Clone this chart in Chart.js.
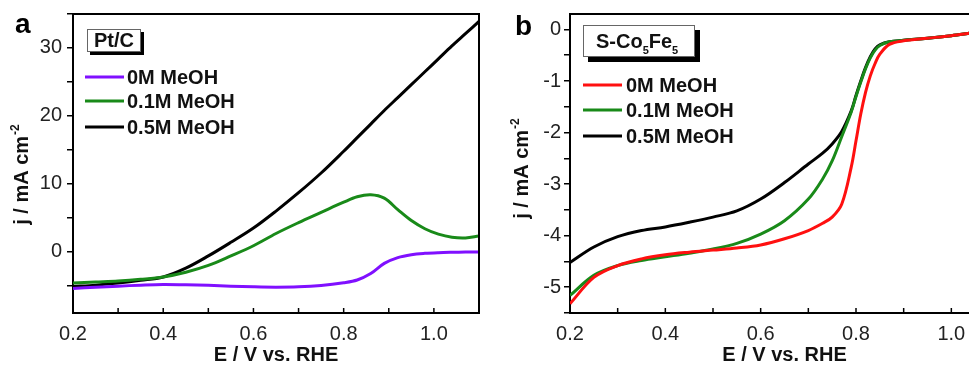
<!DOCTYPE html>
<html>
<head>
<meta charset="utf-8">
<script src="https://cdn.jsdelivr.net/npm/chart.js@4.4.1/dist/chart.umd.min.js"></script>
<style>
  html, body { margin: 0; padding: 0; background: #fff; overflow: hidden; width: 969px; height: 367px; }
  canvas { position: absolute; top: 0; }
  #panelA { left: 0; }
  #panelB { left: 482px; }
</style>
</head>
<body>
<canvas id="panelA" width="482" height="367"></canvas>
<canvas id="panelB" width="517" height="367"></canvas>
<script>
// Panel a: Pt/C, potential (V vs RHE) and current density (mA cm-2)
const potentialA = [0.2, 0.25, 0.3, 0.35, 0.4, 0.45, 0.5, 0.55, 0.6, 0.65, 0.7, 0.75, 0.8, 0.83, 0.86, 0.89, 0.92, 0.95, 0.98, 1.01, 1.04, 1.07, 1.1];
const ptc0M   = [-5.4, -5.2, -5.05, -4.9, -4.8, -4.85, -4.92, -5.05, -5.15, -5.2, -5.15, -4.95, -4.55, -4.15, -3.2, -1.7, -0.85, -0.42, -0.22, -0.12, -0.07, -0.04, -0.02];
const ptc01M  = [-4.6, -4.45, -4.3, -4.05, -3.7, -3.0, -2.0, -0.6, 0.9, 2.7, 4.3, 5.8, 7.3, 8.1, 8.4, 7.9, 6.2, 4.6, 3.4, 2.6, 2.15, 2.05, 2.35];
const ptc05M  = [-5.1, -4.9, -4.6, -4.2, -3.7, -2.4, -0.6, 1.4, 3.5, 6.0, 8.7, 11.6, 14.8, 16.8, 18.8, 20.8, 22.7, 24.6, 26.5, 28.4, 30.3, 32.1, 33.9];

// Panel b: S-Co5Fe5
const potentialB = [0.2, 0.25, 0.3, 0.35, 0.4, 0.45, 0.5, 0.55, 0.6, 0.65, 0.7, 0.73, 0.75, 0.77, 0.79, 0.8, 0.81, 0.82, 0.83, 0.84, 0.85, 0.87, 0.9, 0.95, 1.0, 1.04];
const cofe0M  = [-5.32, -4.81, -4.58, -4.45, -4.37, -4.32, -4.28, -4.24, -4.18, -4.06, -3.9, -3.76, -3.64, -3.39, -2.67, -2.16, -1.64, -1.22, -0.9, -0.66, -0.48, -0.29, -0.22, -0.17, -0.12, -0.07];
const cofe01M = [-5.16, -4.77, -4.58, -4.48, -4.41, -4.34, -4.26, -4.15, -3.97, -3.71, -3.29, -2.9, -2.55, -2.08, -1.6, -1.3, -1.02, -0.76, -0.55, -0.4, -0.31, -0.24, -0.21, -0.17, -0.12, -0.07];
const cofe05M = [-4.52, -4.22, -4.02, -3.9, -3.83, -3.74, -3.64, -3.52, -3.29, -2.97, -2.61, -2.4, -2.22, -1.98, -1.58, -1.28, -1.0, -0.74, -0.53, -0.38, -0.3, -0.24, -0.21, -0.17, -0.12, -0.07];

const seriesLabels = ['0M MeOH', '0.1M MeOH', '0.5M MeOH'];

// Axis ticks
const xTicksA = [0.2, 0.3, 0.4, 0.5, 0.6, 0.7, 0.8, 0.9, 1.0, 1.1];
const xTicksB = [0.2, 0.3, 0.4, 0.5, 0.6, 0.7, 0.8, 0.9, 1.0, 1.1];
const xLabelled = [0.2, 0.4, 0.6, 0.8, 1.0];
const yTicksA = [-5, 0, 5, 10, 15, 20, 25, 30, 35];
const yLabelledA = [0, 10, 20, 30];
const yTicksB = [-5.5, -5, -4.5, -4, -3.5, -3, -2.5, -2, -1.5, -1, -0.5, 0];
const yLabelledB = [-5, -4, -3, -2, -1, 0];

const FONT = "'Liberation Sans', Arial, sans-serif";

function inList(list, v) {
    return list.some(m => Math.abs(m - v) < 1e-6);
}

function toPoints(xs, ys) {
    return xs.map((x, i) => ({ x: x, y: ys[i] }));
}

// draws frame, inward x ticks, y title, boxed label, legend and panel letter
const panelDecor = {
    id: 'panelDecor',
    afterDraw(chart, args, o) {
        const ctx = chart.ctx;
        const a = chart.chartArea;
        const xs = chart.scales.x;
        ctx.save();

        // top and right frame
        ctx.strokeStyle = '#000';
        ctx.lineWidth = 2;
        ctx.beginPath();
        ctx.moveTo(a.left - 1, a.top);
        ctx.lineTo(a.right, a.top);
        ctx.lineTo(a.right, a.bottom);
        ctx.stroke();

        // x ticks pointing into the plot
        ctx.lineWidth = 1.5;
        xs.ticks.forEach(t => {
            const px = xs.getPixelForValue(t.value);
            ctx.beginPath();
            ctx.moveTo(px, a.bottom);
            ctx.lineTo(px, a.bottom - 5);
            ctx.stroke();
        });

        // y axis title with superscript
        ctx.fillStyle = '#111';
        ctx.save();
        ctx.translate(o.yTitleX, o.yTitleY);
        ctx.rotate(-Math.PI / 2);
        ctx.font = 'bold 20px ' + FONT;
        const main = 'j / mA cm';
        const w1 = ctx.measureText(main).width;
        ctx.font = 'bold 12px ' + FONT;
        const w2 = ctx.measureText('-2').width;
        ctx.textBaseline = 'alphabetic';
        ctx.font = 'bold 20px ' + FONT;
        ctx.fillText(main, -(w1 + w2) / 2, 0);
        ctx.font = 'bold 12px ' + FONT;
        ctx.fillText('-2', -(w1 + w2) / 2 + w1 + 1, -9);
        ctx.restore();

        // boxed sample label with shadow
        const b = o.box;
        ctx.fillStyle = '#000';
        ctx.fillRect(b.x + b.shadow, b.y + b.shadow, b.w, b.h);
        ctx.fillStyle = '#fff';
        ctx.fillRect(b.x, b.y, b.w, b.h);
        ctx.strokeStyle = '#666';
        ctx.lineWidth = 1;
        ctx.strokeRect(b.x + 0.5, b.y + 0.5, b.w - 1, b.h - 1);
        ctx.fillStyle = '#111';
        let tx = b.textX;
        b.parts.forEach(p => {
            ctx.font = 'bold ' + p.size + 'px ' + FONT;
            ctx.fillText(p.text, tx, b.baseline + (p.dy || 0));
            tx += ctx.measureText(p.text).width;
        });

        // legend
        const lg = o.legend;
        chart.data.datasets.forEach((ds, i) => {
            const y = lg.rows[i];
            ctx.strokeStyle = ds.borderColor;
            ctx.lineWidth = 3;
            ctx.beginPath();
            ctx.moveTo(lg.x1, y);
            ctx.lineTo(lg.x2, y);
            ctx.stroke();
            ctx.fillStyle = '#111';
            ctx.font = 'bold 20px ' + FONT;
            ctx.fillText(ds.label, lg.textX, y + 7);
        });

        // panel letter
        ctx.font = 'bold 28px ' + FONT;
        ctx.fillStyle = '#000';
        ctx.fillText(o.letter.text, o.letter.x, o.letter.y);
        ctx.restore();
    }
};

function makePanel(id, cfg) {
    return new Chart(document.getElementById(id), {
        type: 'line',
        data: {
            datasets: cfg.series.map((ys, i) => ({
                label: seriesLabels[i],
                data: toPoints(cfg.xs, ys),
                borderColor: cfg.colors[i],
                borderWidth: 3,
                pointRadius: 0,
                tension: 0.35,
                fill: false
            }))
        },
        options: {
            responsive: false,
            animation: false,
            devicePixelRatio: 1,
            layout: { padding: { top: 14, right: cfg.padRight, left: 0, bottom: 0 } },
            plugins: {
                legend: { display: false },
                tooltip: { enabled: false },
                panelDecor: cfg.decor
            },
            scales: {
                x: {
                    type: 'linear',
                    min: cfg.xMin,
                    max: cfg.xMax,
                    afterBuildTicks: s => { s.ticks = cfg.xTicks.map(v => ({ value: v })); },
                    afterFit: s => { s.height = 54; s.paddingLeft = 0; s.paddingRight = 0; },
                    grid: { display: false },
                    border: { display: true, color: '#000', width: 2 },
                    ticks: {
                        autoSkip: false,
                        maxRotation: 0,
                        padding: 1,
                        color: '#222',
                        font: { family: FONT, size: 20 },
                        callback: v => inList(xLabelled, v) ? v.toFixed(1) : ''
                    },
                    title: {
                        display: true,
                        text: 'E / V vs. RHE',
                        color: '#111',
                        padding: { top: 0, bottom: 0 },
                        font: { family: FONT, size: 20, weight: 'bold' }
                    }
                },
                y: {
                    type: 'linear',
                    min: cfg.yMin,
                    max: cfg.yMax,
                    afterBuildTicks: s => { s.ticks = cfg.yTicks.map(v => ({ value: v })); },
                    afterFit: s => { s.width = cfg.yWidth; s.paddingTop = 0; s.paddingBottom = 0; },
                    grid: {
                        display: true,
                        drawOnChartArea: false,
                        drawTicks: true,
                        tickLength: 6,
                        color: '#000',
                        lineWidth: 1.5
                    },
                    border: { display: true, color: '#000', width: 2 },
                    ticks: {
                        autoSkip: false,
                        padding: cfg.yPad,
                        color: '#222',
                        font: { family: FONT, size: 20 },
                        callback: v => inList(cfg.yLabelled, v) ? String(Math.round(v)) : ''
                    }
                }
            }
        },
        plugins: [panelDecor]
    });
}

makePanel('panelA', {
    xs: potentialA,
    series: [ptc0M, ptc01M, ptc05M],
    colors: ['#8010ff', '#198a19', '#000000'],
    xMin: 0.2, xMax: 1.1, xTicks: xTicksA,
    yMin: -9, yMax: 35, yTicks: yTicksA, yLabelled: yLabelledA,
    yWidth: 73, yPad: 5, padRight: 3,
    decor: {
        yTitleX: 28, yTitleY: 175,
        box: { x: 87, y: 29, w: 54, h: 23, shadow: 3, textX: 94, baseline: 47,
               parts: [{ text: 'Pt/C', size: 20 }] },
        legend: { x1: 85, x2: 124, textX: 127, rows: [77, 101, 127] },
        letter: { text: 'a', x: 15, y: 33 }
    }
});

makePanel('panelB', {
    xs: potentialB,
    series: [cofe0M, cofe01M, cofe05M],
    colors: ['#ff1010', '#198a19', '#000000'],
    xMin: 0.2, xMax: 1.1, xTicks: xTicksB,
    yMin: -5.5, yMax: 0.3, yTicks: yTicksB, yLabelled: yLabelledB,
    yWidth: 88, yPad: 3, padRight: 0,
    decor: {
        yTitleX: 46, yTitleY: 169,
        box: { x: 101, y: 25, w: 112, h: 32, shadow: 5, textX: 114, baseline: 48,
               parts: [{ text: 'S-Co', size: 20 }, { text: '5', size: 11, dy: 6 },
                       { text: 'Fe', size: 20 }, { text: '5', size: 11, dy: 6 }] },
        legend: { x1: 101, x2: 140, textX: 144, rows: [85, 110, 136] },
        letter: { text: 'b', x: 33, y: 35 }
    }
});
</script>
</body>
</html>
